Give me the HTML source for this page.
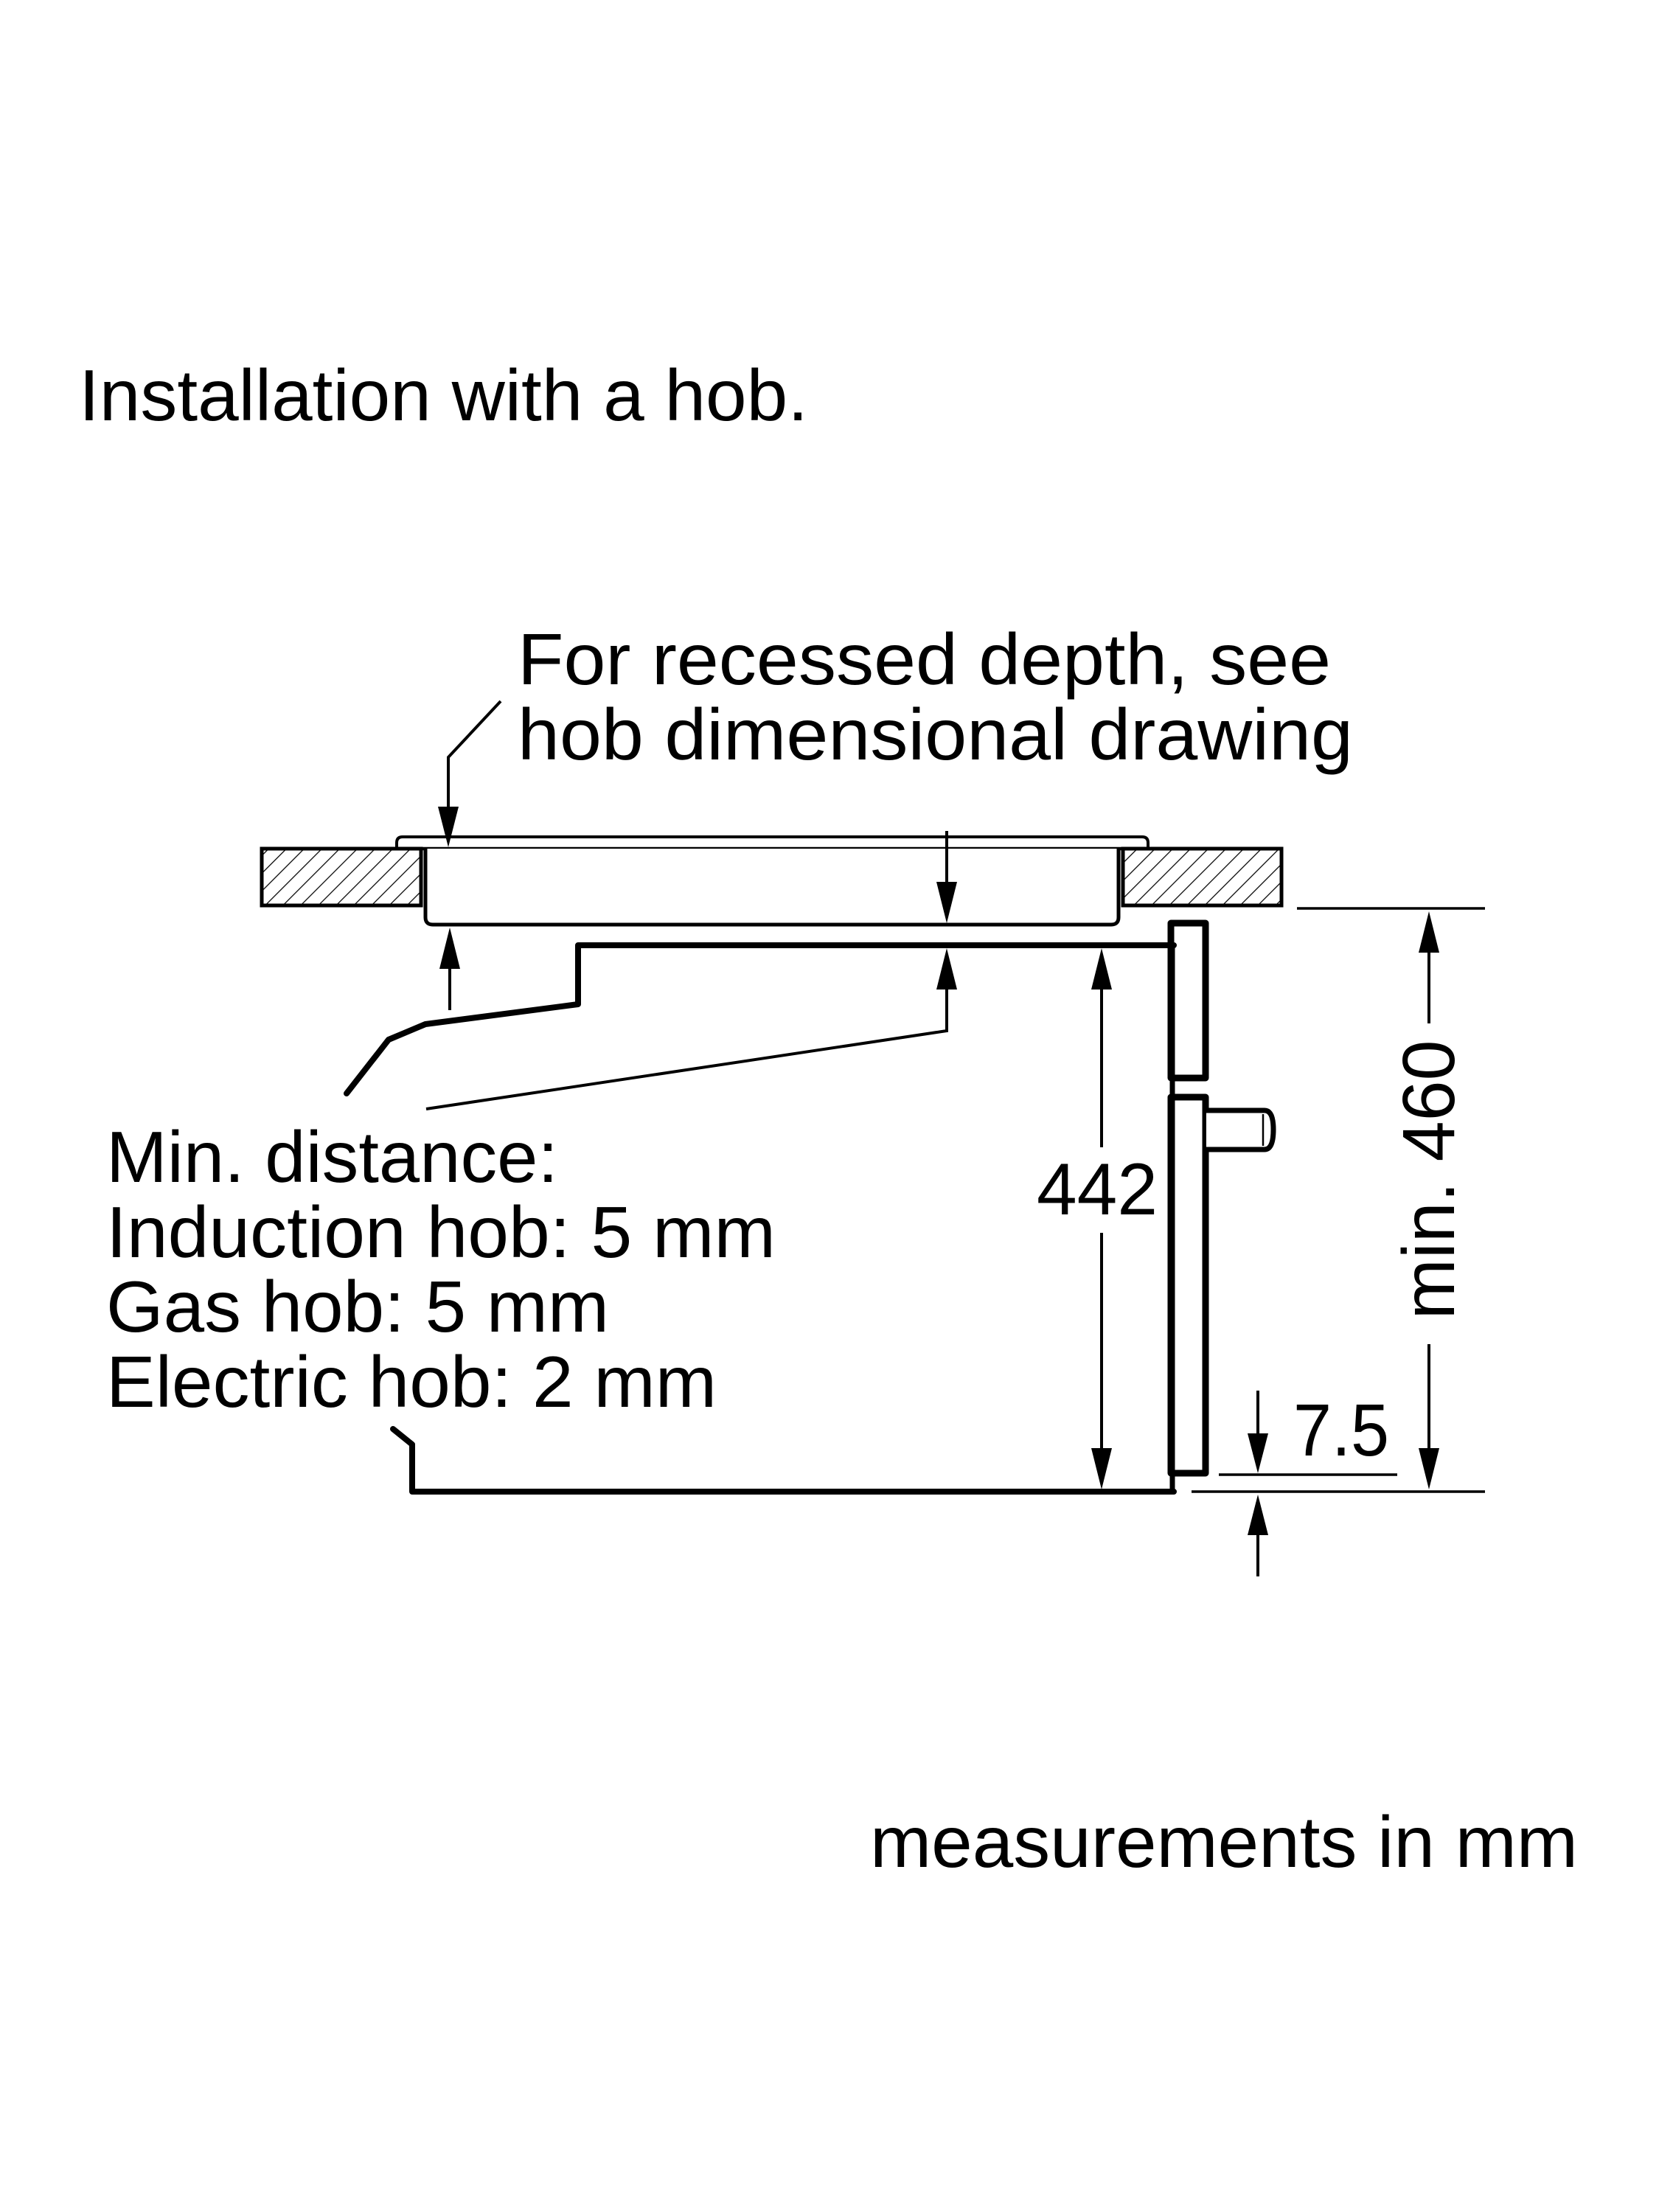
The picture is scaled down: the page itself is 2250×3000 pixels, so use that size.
<!DOCTYPE html>
<html><head><meta charset="utf-8"><style>
html,body{margin:0;padding:0;background:#fff;}
svg{display:block;}
text{font-family:"Liberation Sans",Arial,sans-serif;fill:#000;}
</style></head><body>
<svg width="2250" height="3000" viewBox="0 0 2250 3000" xmlns="http://www.w3.org/2000/svg">
<defs>
<pattern id="h" patternUnits="userSpaceOnUse" width="17" height="17" patternTransform="rotate(45)">
<line x1="0" y1="0" x2="0" y2="17" stroke="#000" stroke-width="2.5"/>
</pattern>
</defs>
<rect width="2250" height="3000" fill="#fff"/>

<text x="107" y="570" font-size="98" textLength="989" lengthAdjust="spacingAndGlyphs">Installation with a hob.</text>
<text x="702" y="928" font-size="98" textLength="1103" lengthAdjust="spacingAndGlyphs">For recessed depth, see</text>
<text x="702" y="1030" font-size="98" textLength="1133" lengthAdjust="spacingAndGlyphs">hob dimensional drawing</text>

<text x="144" y="1603" font-size="98" textLength="613" lengthAdjust="spacingAndGlyphs">Min. distance:</text>
<text x="144" y="1705" font-size="98" textLength="908" lengthAdjust="spacingAndGlyphs">Induction hob: 5 mm</text>
<text x="144" y="1806" font-size="98" textLength="682" lengthAdjust="spacingAndGlyphs">Gas hob: 5 mm</text>
<text x="144" y="1908" font-size="98" textLength="828" lengthAdjust="spacingAndGlyphs">Electric hob: 2 mm</text>

<text x="1180" y="2532" font-size="98" textLength="960" lengthAdjust="spacingAndGlyphs">measurements in mm</text>

<rect x="355" y="1151" width="216" height="77" fill="url(#h)" stroke="#000" stroke-width="5"/>
<rect x="1523" y="1151" width="215" height="77" fill="url(#h)" stroke="#000" stroke-width="5"/>

<path d="M538 1151 L538 1143 Q538 1135 546 1135 L1549 1135 Q1557 1135 1557 1143 L1557 1151" fill="none" stroke="#000" stroke-width="4"/>
<path d="M538 1151 L1557 1151" stroke="#000" stroke-width="4.5"/>
<path d="M577 1151 L577 1244 Q577 1254 587 1254 L1507 1254 Q1517 1254 1517 1244 L1517 1151" fill="#fff" stroke="#000" stroke-width="5"/>

<path d="M679 951 L608 1027 L608 1100" fill="none" stroke="#000" stroke-width="4"/>
<polygon points="594,1094 622,1094 608,1149" fill="#000"/>

<path d="M1592 1282 L784 1282 L784 1362 L577 1389 L527 1410 L470 1483" fill="none" stroke="#000" stroke-width="8" stroke-linejoin="round" stroke-linecap="round"/>
<path d="M533 1938 L559 1959 L559 2023 L1592 2023" fill="none" stroke="#000" stroke-width="8" stroke-linejoin="round" stroke-linecap="round"/>
<line x1="1590" y1="1282" x2="1590" y2="2023" stroke="#000" stroke-width="7"/>
<rect x="1588" y="1252" width="47" height="210" fill="none" stroke="#000" stroke-width="9" stroke-linejoin="round"/>
<rect x="1588" y="1488" width="47" height="510" fill="none" stroke="#000" stroke-width="9" stroke-linejoin="round"/>
<path d="M1636 1506 L1715 1506 Q1727 1506 1727 1532 Q1727 1559 1715 1559 L1636 1559" fill="#fff" stroke="#000" stroke-width="7"/>
<line x1="1713" y1="1511" x2="1713" y2="1554" stroke="#000" stroke-width="2.5"/>

<line x1="610" y1="1370" x2="610" y2="1300" stroke="#000" stroke-width="4"/>
<polygon points="596,1314 624,1314 610,1258" fill="#000"/>

<line x1="1284" y1="1127" x2="1284" y2="1210" stroke="#000" stroke-width="4"/>
<polygon points="1270,1196 1298,1196 1284,1252" fill="#000"/>
<polygon points="1270,1342 1298,1342 1284,1286" fill="#000"/>
<path d="M1284 1330 L1284 1398 L578 1504" fill="none" stroke="#000" stroke-width="4"/>

<line x1="1494" y1="1330" x2="1494" y2="1556" stroke="#000" stroke-width="4"/>
<line x1="1494" y1="1672" x2="1494" y2="1975" stroke="#000" stroke-width="4"/>
<polygon points="1480,1342 1508,1342 1494,1286" fill="#000"/>
<polygon points="1480,1964 1508,1964 1494,2020" fill="#000"/>
<text x="1406" y="1647" font-size="99" textLength="164" lengthAdjust="spacingAndGlyphs">442</text>

<line x1="1759" y1="1232" x2="2014" y2="1232" stroke="#000" stroke-width="3.5"/>
<line x1="1616" y1="2023" x2="2014" y2="2023" stroke="#000" stroke-width="3.5"/>
<line x1="1938" y1="1280" x2="1938" y2="1388" stroke="#000" stroke-width="4"/>
<line x1="1938" y1="1823" x2="1938" y2="1975" stroke="#000" stroke-width="4"/>
<polygon points="1924,1292 1952,1292 1938,1236" fill="#000"/>
<polygon points="1924,1964 1952,1964 1938,2020" fill="#000"/>
<text transform="translate(1972 1600) rotate(-90)" x="0" y="0" font-size="100" text-anchor="middle" textLength="379" lengthAdjust="spacingAndGlyphs">min. 460</text>

<line x1="1653" y1="2000" x2="1895" y2="2000" stroke="#000" stroke-width="3.5"/>
<line x1="1706" y1="1886" x2="1706" y2="1955" stroke="#000" stroke-width="4"/>
<polygon points="1692,1944 1720,1944 1706,1998" fill="#000"/>
<polygon points="1692,2082 1720,2082 1706,2027" fill="#000"/>
<line x1="1706" y1="2070" x2="1706" y2="2138" stroke="#000" stroke-width="4"/>
<text x="1754" y="1974" font-size="100" textLength="130" lengthAdjust="spacingAndGlyphs">7.5</text>
</svg>
</body></html>
